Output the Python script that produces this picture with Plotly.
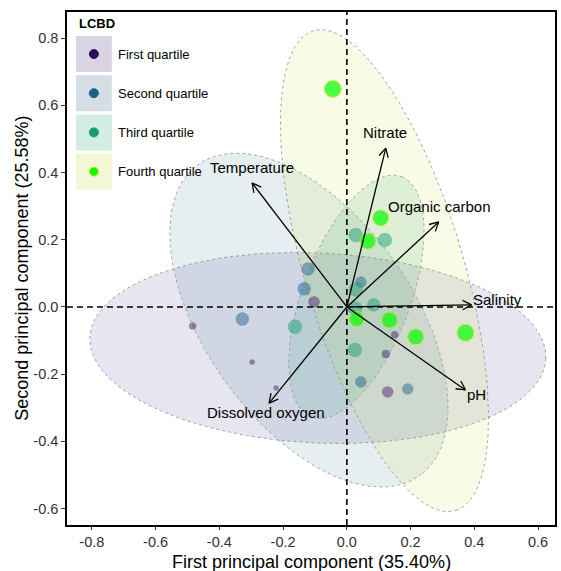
import numpy as np
import plotly.graph_objects as go

# ---------------- data ----------------
groups = ["First quartile", "Second quartile", "Third quartile", "Fourth quartile"]

first_x = [-0.103, -0.484, -0.297, -0.222, 0.150, 0.122, 0.128]
first_y = [0.015, -0.057, -0.164, -0.241, -0.083, -0.140, -0.253]
first_lcbd = [0.031, 0.027, 0.025, 0.025, 0.027, 0.028, 0.031]

second_x = [-0.122, -0.134, -0.328, 0.044, 0.044, 0.191]
second_y = [0.113, 0.054, -0.036, 0.074, -0.223, -0.244]
second_lcbd = [0.033, 0.033, 0.033, 0.031, 0.031, 0.031]

third_x = [0.028, 0.119, 0.028, 0.084, 0.025, -0.163, 0.026]
third_y = [0.214, 0.199, 0.052, 0.006, -0.128, -0.059, -0.004]
third_lcbd = [0.034, 0.034, 0.034, 0.033, 0.034, 0.034, 0.034]

fourth_x = [-0.044, 0.106, 0.066, 0.031, 0.134, 0.216, 0.372]
fourth_y = [0.649, 0.265, 0.196, -0.036, -0.039, -0.089, -0.077]
fourth_lcbd = [0.037, 0.036, 0.036, 0.035, 0.036, 0.036, 0.037]

# confidence ellipses: centre x, centre y, semi-major, semi-minor, angle (deg)
ell_cx = [-0.091, -0.119, 0.030, 0.118]
ell_cy = [-0.122, -0.039, 0.030, 0.108]
ell_a = [0.716, 0.579, 0.385, 0.748]
ell_b = [0.283, 0.320, 0.168, 0.248]
ell_ang = [-2.5, -52.0, 68.0, -72.5]

# environmental vectors
vec_names = ["Temperature", "Nitrate", "Organic carbon", "Salinity", "pH", "Dissolved oxygen"]
vec_x = [-0.297, 0.122, 0.288, 0.391, 0.372, -0.244]
vec_y = [0.369, 0.473, 0.253, 0.006, -0.247, -0.286]

x_ticks = [-0.8, -0.6, -0.4, -0.2, 0.0, 0.2, 0.4, 0.6]
y_ticks = [-0.6, -0.4, -0.2, 0.0, 0.2, 0.4, 0.6, 0.8]

# ---------------- styles ----------------
X_RANGE = [-0.878, 0.653]
Y_RANGE = [-0.649, 0.878]
W, H = 561, 571
ML, MR, MT, MB = 67, 4, 12, 46
PW, PH = W - ML - MR, H - MT - MB
SX = PW / (X_RANGE[1] - X_RANGE[0])
SY = PH / (Y_RANGE[1] - Y_RANGE[0])

ell_fill = ["rgba(60,40,130,0.12)", "rgba(33,97,140,0.11)",
            "rgba(24,155,116,0.13)", "rgba(200,230,50,0.12)"]
key_fill = ["#D9D4E4", "#D5DEE4", "#D4EDE3", "#F1F7D7"]
pt_color = ["rgba(59,11,102,0.62)", "rgba(31,98,138,0.68)",
            "rgba(22,155,115,0.68)", "#00FF00"]
key_color = ["#310A5E", "#1F6288", "#169A72", "#00FF00"]
line_col = ["rgba(59,11,102,0.5)", "rgba(31,98,138,0.5)",
            "rgba(22,155,115,0.5)", "#D8E020"]
FONT = "Liberation Sans, Arial, sans-serif"


def lcbd_size(v):
    return [(s - 0.020) * 1000 for s in v]


def ellipse(cx, cy, a, b, ang, n=240):
    t = np.linspace(0, 2 * np.pi, n)
    th = np.deg2rad(ang)
    x = cx + a * np.cos(t) * np.cos(th) - b * np.sin(t) * np.sin(th)
    y = cy + a * np.cos(t) * np.sin(th) + b * np.sin(t) * np.cos(th)
    return x, y


fig = go.Figure()

# ellipses
for i in range(4):
    ex, ey = ellipse(ell_cx[i], ell_cy[i], ell_a[i], ell_b[i], ell_ang[i])
    fig.add_trace(go.Scatter(x=ex, y=ey, mode="lines", fill="toself",
                             fillcolor=ell_fill[i],
                             line=dict(color="rgba(150,150,150,0.85)", width=1, dash="dot"),
                             hoverinfo="skip", showlegend=False))

# dashed zero lines
fig.add_trace(go.Scatter(x=X_RANGE, y=[0, 0], mode="lines",
                         line=dict(color="black", width=1.6, dash="6px,4px"),
                         hoverinfo="skip", showlegend=False))
fig.add_trace(go.Scatter(x=[0, 0], y=Y_RANGE, mode="lines",
                         line=dict(color="black", width=1.6, dash="6px,4px"),
                         hoverinfo="skip", showlegend=False))

# points
pts = [(first_x, first_y, first_lcbd), (second_x, second_y, second_lcbd),
       (third_x, third_y, third_lcbd), (fourth_x, fourth_y, fourth_lcbd)]
for i, (px, py, pl) in enumerate(pts):
    fig.add_trace(go.Scatter(x=px, y=py, mode="markers", name=groups[i],
                             marker=dict(size=lcbd_size(pl), color=pt_color[i],
                                         line=dict(color=line_col[i], width=1 if i == 3 else 0.5)),
                             showlegend=False))

# vectors with open arrowheads
HL, HA = 10.0, np.deg2rad(28)
for vx, vy in zip(vec_x, vec_y):
    fig.add_trace(go.Scatter(x=[0, vx], y=[0, vy], mode="lines",
                             line=dict(color="black", width=1.3),
                             hoverinfo="skip", showlegend=False))
    ux, uy = vx * SX, vy * SY
    nrm = np.hypot(ux, uy)
    ux, uy = ux / nrm, uy / nrm
    hx, hy = [], []
    for s in (1, -1):
        c, sn = np.cos(s * HA), np.sin(s * HA)
        rx, ry = ux * c - uy * sn, ux * sn + uy * c
        hx.append(vx - HL * rx / SX)
        hy.append(vy - HL * ry / SY)
    fig.add_trace(go.Scatter(x=[hx[0], vx, hx[1]], y=[hy[0], vy, hy[1]], mode="lines",
                             line=dict(color="black", width=1.3),
                             hoverinfo="skip", showlegend=False))

annotations = []
# vector labels
lab_pos = {
    "Temperature": (-0.297, 0.414, "center"),
    "Nitrate": (0.119, 0.518, "center"),
    "Organic carbon": (0.291, 0.298, "center"),
    "Salinity": (0.390, 0.021, "left"),
    "pH": (0.370, -0.262, "left"),
    "Dissolved oxygen": (-0.253, -0.315, "center"),
}
for nm in vec_names:
    lx, ly, anc = lab_pos[nm]
    annotations.append(dict(x=lx, y=ly, xref="x", yref="y", text=nm, showarrow=False,
                            xanchor=anc, yanchor="middle",
                            font=dict(family=FONT, size=15, color="black")))


def px2paper(x, y):
    return (x - ML) / PW, (MT + PH - y) / PH


# axis titles
ax_, ay_ = px2paper(312, 562)
annotations.append(dict(x=0.5, y=ay_, xref="paper", yref="paper",
                        text="First principal component (35.40%)", showarrow=False,
                        xanchor="center", yanchor="middle",
                        font=dict(family=FONT, size=18, color="black")))
bx_, by_ = px2paper(21, 268)
annotations.append(dict(x=bx_, y=0.5, xref="paper", yref="paper",
                        text="Second principal component (25.58%)", showarrow=False,
                        textangle=-90, xanchor="center", yanchor="middle",
                        font=dict(family=FONT, size=18, color="black")))

# custom legend
shapes = []
tx, ty = px2paper(77, 23)
annotations.append(dict(x=tx, y=ty, xref="paper", yref="paper", text="<b>LCBD</b>",
                        showarrow=False, xanchor="left", yanchor="middle",
                        font=dict(family=FONT, size=13, color="black")))
for i in range(4):
    top = 36 + 39.2 * i
    x0, y0 = px2paper(76, top + 36)
    x1, y1 = px2paper(112, top)
    shapes.append(dict(type="rect", xref="paper", yref="paper", x0=x0, y0=y0, x1=x1, y1=y1,
                       fillcolor=key_fill[i], line=dict(width=0), layer="above"))
    cxp, cyp = px2paper(94, top + 18)
    shapes.append(dict(type="circle", xref="paper", yref="paper",
                       xsizemode="pixel", ysizemode="pixel", xanchor=cxp, yanchor=cyp,
                       x0=-4.5, x1=4.5, y0=-4.5, y1=4.5,
                       fillcolor=key_color[i],
                       line=dict(color="#D8E020" if i == 3 else key_color[i], width=1),
                       layer="above"))
    lx, ly = px2paper(116, top + 18)
    annotations.append(dict(x=lx, y=ly, xref="paper", yref="paper", text=groups[i],
                            showarrow=False, xanchor="left", yanchor="middle",
                            font=dict(family=FONT, size=13, color="black")))

fig.update_layout(
    width=W, height=H, autosize=False,
    margin=dict(l=ML, r=MR, t=MT, b=MB, pad=0),
    paper_bgcolor="white", plot_bgcolor="white",
    showlegend=False,
    annotations=annotations, shapes=shapes,
    font=dict(family=FONT),
)
fig.update_xaxes(range=X_RANGE, tickvals=x_ticks, ticktext=[f"{v:.1f}" for v in x_ticks],
                 showgrid=False, zeroline=False, showline=True, mirror=True,
                 linecolor="black", linewidth=1.6, ticks="outside", ticklen=3,
                 tickcolor="#333", tickwidth=1,
                 tickfont=dict(family=FONT, size=14.5, color="#333"))
fig.update_yaxes(range=Y_RANGE, tickvals=y_ticks, ticktext=[f"{v:.1f}" for v in y_ticks],
                 showgrid=False, zeroline=False, showline=True, mirror=True,
                 linecolor="black", linewidth=1.6, ticks="outside", ticklen=4,
                 tickcolor="#333", tickwidth=1,
                 tickfont=dict(family=FONT, size=14.5, color="#333"))

fig.write_html("out.html")
